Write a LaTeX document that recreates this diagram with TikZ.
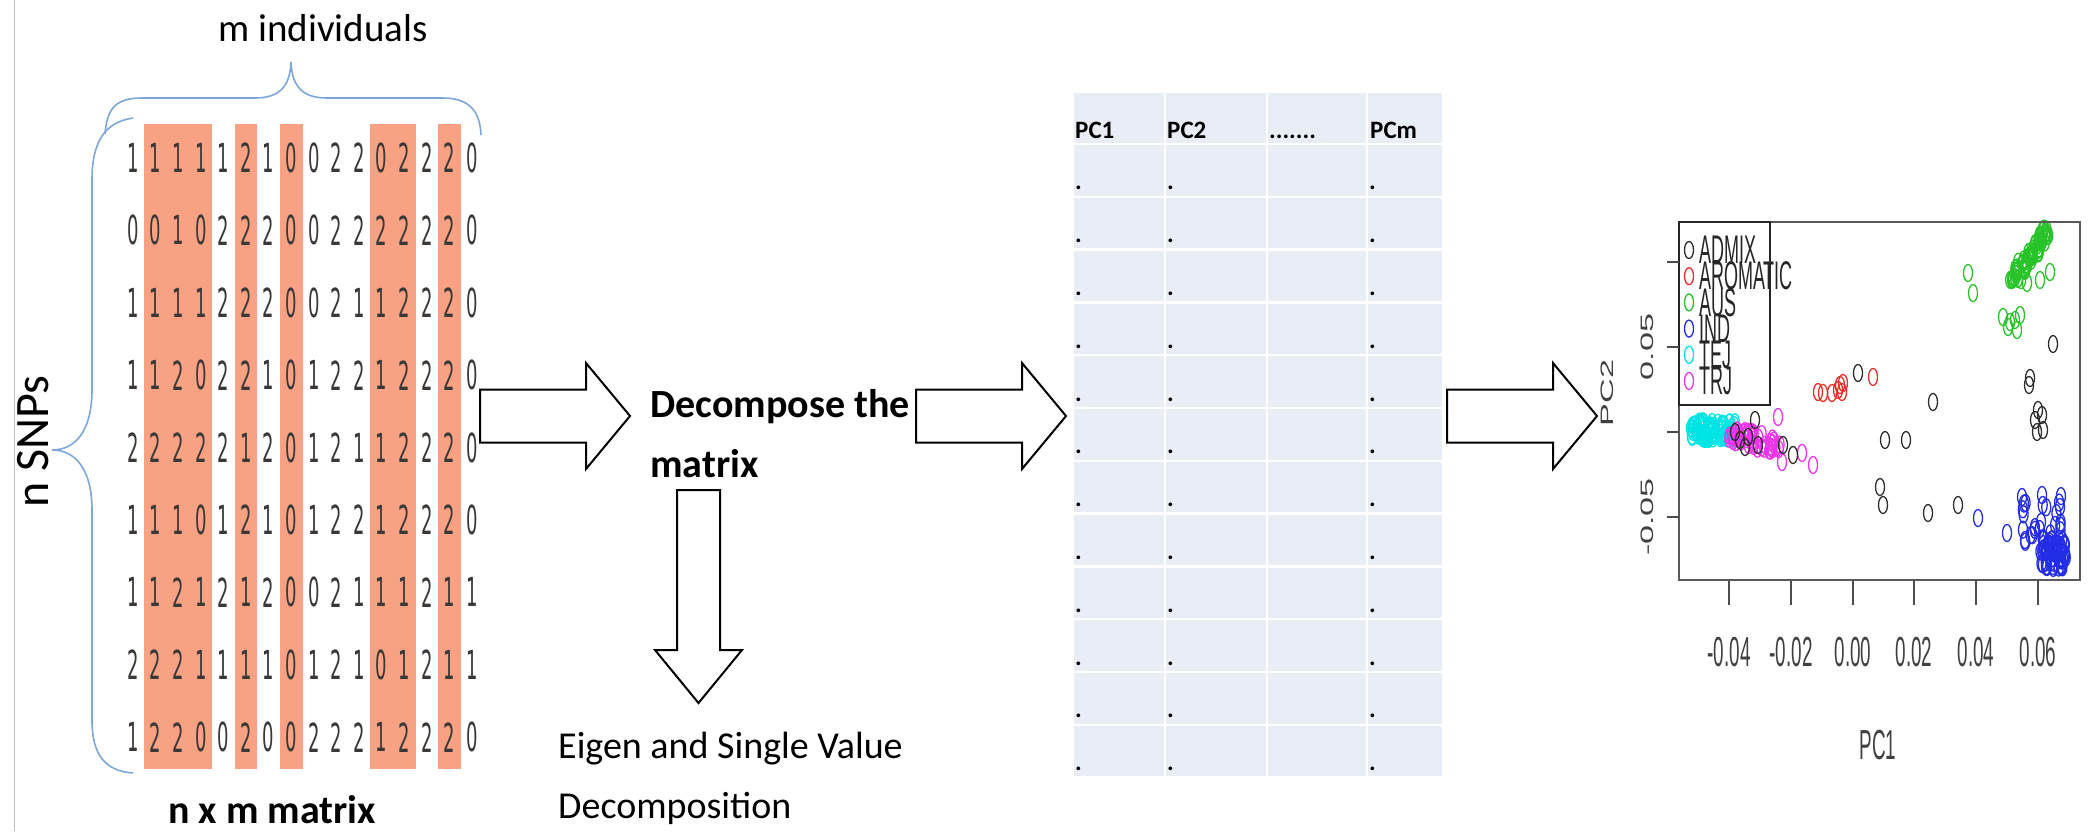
\documentclass[tikz,border=0pt]{standalone}
\usepackage{fontspec}
\setmainfont{Carlito}
\newfontfamily\digitfont[FakeStretch=0.45]{DejaVu Sans}
\newfontfamily\plotfont[FakeStretch=0.45]{Liberation Sans}
\newfontfamily\plotfontv[FakeStretch=1.9]{Liberation Sans}
\usetikzlibrary{positioning}

\definecolor{snpred}{RGB}{249,161,131}
\definecolor{bracebl}{RGB}{125,167,217}
\definecolor{cellbl}{RGB}{233,237,245}
\definecolor{admix}{RGB}{45,45,45}
\definecolor{aromatic}{RGB}{235,45,40}
\definecolor{aus}{RGB}{40,195,40}
\definecolor{ind}{RGB}{35,45,230}
\definecolor{tej}{RGB}{0,228,228}
\definecolor{trj}{RGB}{238,50,238}

\newcommand{\pcdot}[3]{\draw[pcpt,#1] ({#2},{#3}) ellipse[x radius=4.5,y radius=8.5];}

\begin{document}
\begin{tikzpicture}
[
x=1pt, y=-1pt,
digit/.style={font=\digitfont\fontsize{40}{40}\selectfont, text=black!78, inner sep=0},
blockarr/.style={draw=black, line width=2, fill=white, line join=miter},
brace/.style={draw=bracebl, line width=1.6},
pcpt/.style={line width=1.3},
hdr/.style={font=\bfseries\fontsize{25}{25}\selectfont, anchor=base west, inner sep=0},
axtick/.style={draw=black!70, line width=1.5},
axlbl/.style={font=\plotfont\fontsize{42}{42}\selectfont, text=black!75, inner sep=0},
axlblv/.style={font=\plotfontv\fontsize{18}{18}\selectfont, text=black!75, inner sep=0, rotate=90},
leg/.style={font=\plotfont\fontsize{40}{40}\selectfont, text=black!85, anchor=west, inner sep=0}
]
\useasboundingbox (0,0) rectangle (2091,831);
\draw[black!25, line width=1] (14,0) -- (14,831);

%Matrix
\foreach \a/\b in {2/4,6/6,8/8,12/13,15/15}
  \fill[snpred] ({133+22.6*(\a-1)-11.3},124) rectangle ({133+22.6*(\b-1)+11.3},769);
\foreach \row [count=\i] in {{1,1,1,1,1,2,1,0,0,2,2,0,2,2,2,0},{0,0,1,0,2,2,2,0,0,2,2,2,2,2,2,0},{1,1,1,1,2,2,2,0,0,2,1,1,2,2,2,0},{1,1,2,0,2,2,1,0,1,2,2,1,2,2,2,0},{2,2,2,2,2,1,2,0,1,2,1,1,2,2,2,0},{1,1,1,0,1,2,1,0,1,2,2,1,2,2,2,0},{1,1,2,1,2,1,2,0,0,2,1,1,1,2,1,1},{2,2,2,1,1,1,1,0,1,2,1,0,1,2,1,1},{1,2,2,0,0,2,0,0,2,2,2,1,2,2,2,0}}{
  \foreach \d [count=\j] in \row {
    \node[digit] (d\i-\j) at ({133+22.6*(\j-1)},{158+72.4*(\i-1)}) {\d};
  }
}

%Braces
\draw[brace] (105,134) .. controls (107,108) and (116,98) .. (142,98) -- (255,98)
  .. controls (280,98) and (290,86) .. (291,62) .. controls (292,86) and (302,98) .. (327,98)
  -- (443,98) .. controls (468,98) and (480,110) .. (481,135);
\draw[brace] (133,118) .. controls (106,122) and (92,140) .. (92,180) -- (92,390)
  .. controls (92,430) and (76,450) .. (52,450) .. controls (76,450) and (92,470) .. (92,510)
  -- (92,720) .. controls (92,756) and (106,771) .. (133,773);

%Labels
\node[font=\fontsize{39}{39}\selectfont] (mind) at (323,28) {m individuals};
\node[font=\fontsize{48}{48}\selectfont, rotate=90] (nsnp) at (33,442) {n SNPs};
\node[font=\bfseries\fontsize{40}{40}\selectfont, anchor=base] (nxm) at (272,823) {n x m matrix};
\node[font=\bfseries\fontsize{40}{40}\selectfont, anchor=base west, inner sep=0] (dec1) at (650,417) {Decompose the};
\node[font=\bfseries\fontsize{40}{40}\selectfont, anchor=base west, inner sep=0] (dec2) at (650,477) {matrix};
\node[font=\fontsize{38}{38}\selectfont, anchor=base west, inner sep=0] (eig1) at (558,758) {Eigen and Single Value};
\node[font=\fontsize{38}{38}\selectfont, anchor=base west, inner sep=0] (eig2) at (558,818) {Decomposition};

%Arrows
\foreach \xs in {480,916,1447}
  \draw[blockarr] (\xs,389.5) -- ++(106,0) -- ++(0,-26.5) -- ++(44,53) -- ++(-44,53) -- ++(0,-26.5) -- ++(-106,0) -- cycle;
\draw[blockarr] (677,490) -- ++(0,160) -- ++(-22,0) -- ++(43.5,53) -- ++(43.5,-53) -- ++(-22,0) -- ++(0,-160) -- cycle;

%Table
\foreach \xa/\xb in {1073/1165,1165/1267,1267/1367,1367/1443}{
  \fill[cellbl] (\xa+1.2,93) rectangle (\xb-1.2,142.8);
  \foreach \r in {1,...,12}
    \fill[cellbl] (\xa+1.2,{144+52.8*(\r-1)+1.2}) rectangle (\xb-1.2,{144+52.8*\r-1.2});
}
\node[hdr] (pc1) at (1075,138) {PC1};
\node[hdr] (pc2) at (1167,138) {PC2};
\node[hdr] (pcd) at (1269,138) {.......};
\node[hdr] (pcm) at (1370,138) {PCm};
\foreach \xa in {1073,1165,1367}
  \foreach \r in {1,...,12}
    \node[hdr] (c\xa-\r) at (\xa+2,{144+52.8*\r-7}) {.};

%Scatter plot
\pgfmathsetseed{831}
\foreach \k in {1,...,70}{
  \pgfmathsetmacro{\sv}{rnd}
  \pgfmathsetmacro{\px}{2014+36*\sv+5*rand}
  \pgfmathsetmacro{\py}{278-50*\sv+6*rand}
  \pcdot{aus}{\px}{\py}
}
\foreach \px/\py in {2012/280,2027/283,2040/280,2050/272,1968/273,1973/293,2003/317,2010/322,2015/320,2020/315,2017/330,2008/327}{
  \pcdot{aus}{\px}{\py}
}
\foreach \k in {1,...,25}{
  \pgfmathsetmacro{\px}{2022+40*rnd}
  \pgfmathsetmacro{\py}{495+50*rnd}
  \pcdot{ind}{\px}{\py}
}
\foreach \k in {1,...,70}{
  \pgfmathsetmacro{\px}{2053+13*rand}
  \pgfmathsetmacro{\py}{553+15*rand}
  \pcdot{ind}{\px}{\py}
}
\foreach \px/\py in {1978/518,2007/533,2022/497,2042/495,2060/507,2025/540}{
  \pcdot{ind}{\px}{\py}
}
\foreach \px/\py in {1818/392,1823/393,1832/393,1840/385,1843/383,1842/392,1838/390,1873/377}{
  \pcdot{aromatic}{\px}{\py}
}
\foreach \k in {1,...,90}{
  \pgfmathsetmacro{\px}{1690+45*rnd}
  \pgfmathsetmacro{\py}{421+18*rnd}
  \pcdot{tej}{\px}{\py}
}
\foreach \k in {1,...,50}{
  \pgfmathsetmacro{\sv}{rnd}
  \pgfmathsetmacro{\px}{1727+53*\sv+3*rand}
  \pgfmathsetmacro{\py}{433+14*\sv+8*rand}
  \pcdot{trj}{\px}{\py}
}
\foreach \px/\py in {1778/417,1802/453,1813/465,1782/462}{
  \pcdot{trj}{\px}{\py}
}
\foreach \px/\py in {1735/432,1740/440,1748/437,1745/447,1758/445,1755/420,1783/445,1793/455,1858/373,1933/402,1885/440,1906/440,1880/487,1883/505,1928/513,1958/505,2053/344,2029/385,2030/378,2038/410,2035/420,2037/432,2043/430,2042/415}{
  \pcdot{admix}{\px}{\py}
}

\draw[draw=black!65, line width=2.5] (1679,222) rectangle (2080,580);
\draw[fill=white, draw=black!85, line width=2] (1679,222) rectangle (1770,405);
\foreach \nm/\cl [count=\k] in {ADMIX/admix,AROMATIC/aromatic,AUS/aus,IND/ind,TEJ/tej,TRJ/trj}{
  \pcdot{\cl}{1689}{250+26.2*(\k-1)}
  \node[leg] (leg\k) at (1699,{250+26.2*(\k-1)}) {\nm};
}
\foreach \yt in {262,347,432,517}{
  \draw[axtick] (1667,\yt) -- (1679,\yt);
}
\foreach \xt/\lab in {1729/-0.04,1791/-0.02,1853/0.00,1914/0.02,1976/0.04,2038/0.06}{
  \draw[axtick] (\xt,580) -- (\xt,605);
  \node[axlbl] (xl\xt) at (\xt,652) {\lab};
}
\node[axlblv] (yl1) at (1647,347) {0.05};
\node[axlblv] (yl2) at (1647,517) {-0.05};
\node[axlbl] (pcx) at (1878,745) {PC1};
\node[axlblv] (pcy) at (1607,393) {PC2};
\end{tikzpicture}
\end{document}
